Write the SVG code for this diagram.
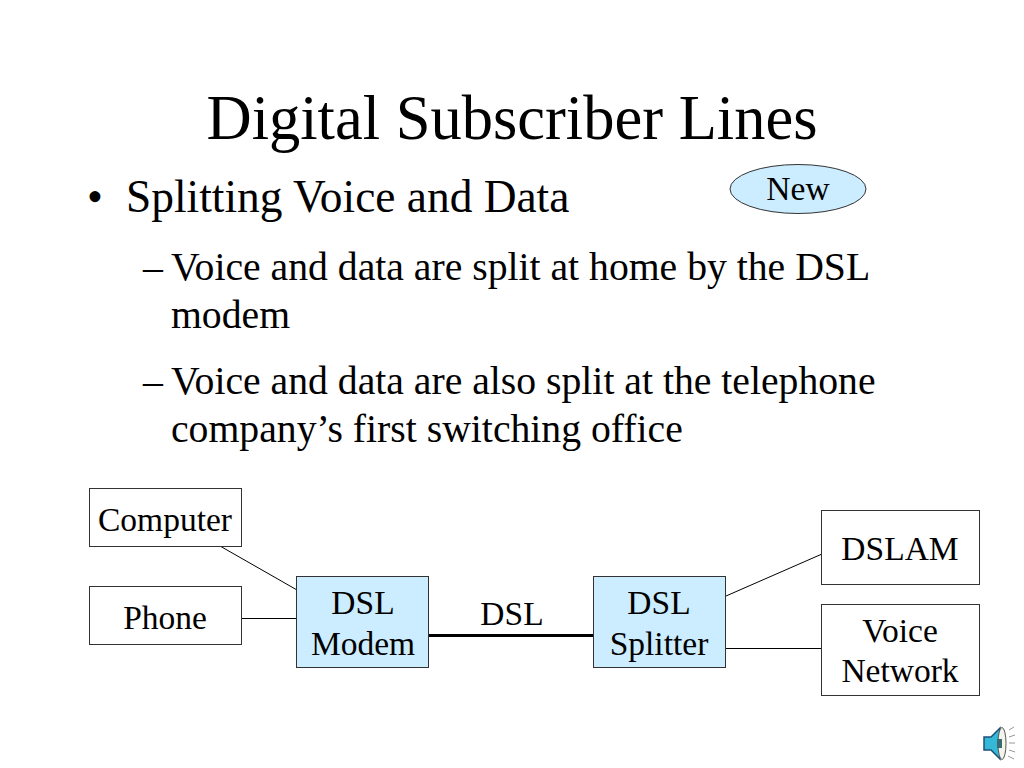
<svg xmlns="http://www.w3.org/2000/svg" width="1024" height="768" viewBox="0 0 1024 768">
<style>
text{font-family:"Liberation Serif","Times New Roman",serif;fill:#000}
.b{fill:#fff;stroke:#333;stroke-width:1}
.d{fill:#ccecff;stroke:#333;stroke-width:1}
.l{font-size:33.5px;text-anchor:middle}
.s{font-size:39.700px}
.c{stroke:#000;stroke-width:1;fill:none}
</style>
<rect width="1024" height="768" fill="#fff"/>
<text x="512" y="138.500" font-size="62.500" text-anchor="middle">Digital Subscriber Lines</text>
<text x="87" y="212" font-size="45.400">•</text>
<text x="126" y="212" font-size="45.400">Splitting Voice and Data</text>
<text class="s" x="143" y="280">–</text>
<text class="s" x="171" y="280">Voice and data are split at home by the DSL</text>
<text class="s" x="171" y="328">modem</text>
<text class="s" x="143" y="394">–</text>
<text class="s" x="171" y="394">Voice and data are also split at the telephone</text>
<text class="s" x="171" y="442">company’s first switching office</text>
<g id="connectors">
<path class="c" d="M220 546L297 590M241 618.500H297M726 596L822 554M726 648.500H822"/>
<path d="M429 635.500H593" stroke="#000" stroke-width="3" fill="none"/>
</g>
<g id="new"><ellipse cx="798" cy="189" rx="68" ry="24.500" class="d"/><text class="l" x="798" y="200">New</text></g>
<g id="computer"><rect class="b" x="89.500" y="488.500" width="152" height="58"/><text class="l" x="165" y="530.500">Computer</text></g>
<g id="phone"><rect class="b" x="89.500" y="586.500" width="152" height="58"/><text class="l" x="165" y="628.500">Phone</text></g>
<g id="modem"><rect class="d" x="296.500" y="576.500" width="132" height="91"/><text class="l" x="363" y="614">DSL</text><text class="l" x="363" y="655">Modem</text></g>
<g id="dsl"><text class="l" x="512" y="625">DSL</text></g>
<g id="splitter"><rect class="d" x="593.500" y="576.500" width="132" height="91"/><text class="l" x="659" y="614">DSL</text><text class="l" x="659" y="655">Splitter</text></g>
<g id="dslam"><rect class="b" x="821.500" y="510.500" width="158" height="74"/><text class="l" x="900" y="559.500">DSLAM</text></g>
<g id="voice"><rect class="b" x="821.500" y="604.500" width="158" height="91"/><text class="l" x="900" y="642">Voice</text><text class="l" x="900" y="682">Network</text></g>
<g id="speaker">
<path d="M984 737H991L1000 728V759L991 750H984Z" fill="#35b8d8" stroke="#1f4f78" stroke-width="1.500"/>
<ellipse cx="1002" cy="743.500" rx="4" ry="16" fill="#f4f4ea" stroke="#555" stroke-width="1"/>
<rect x="997" y="739" width="5" height="9" fill="#3a6a70"/>
<path d="M1009 730L1014 727M1009 737L1015 735M1009 743H1015M1009 750L1015 752M1008 756L1014 759" stroke="#999" stroke-width="1" fill="none"/>
</g>
</svg>
